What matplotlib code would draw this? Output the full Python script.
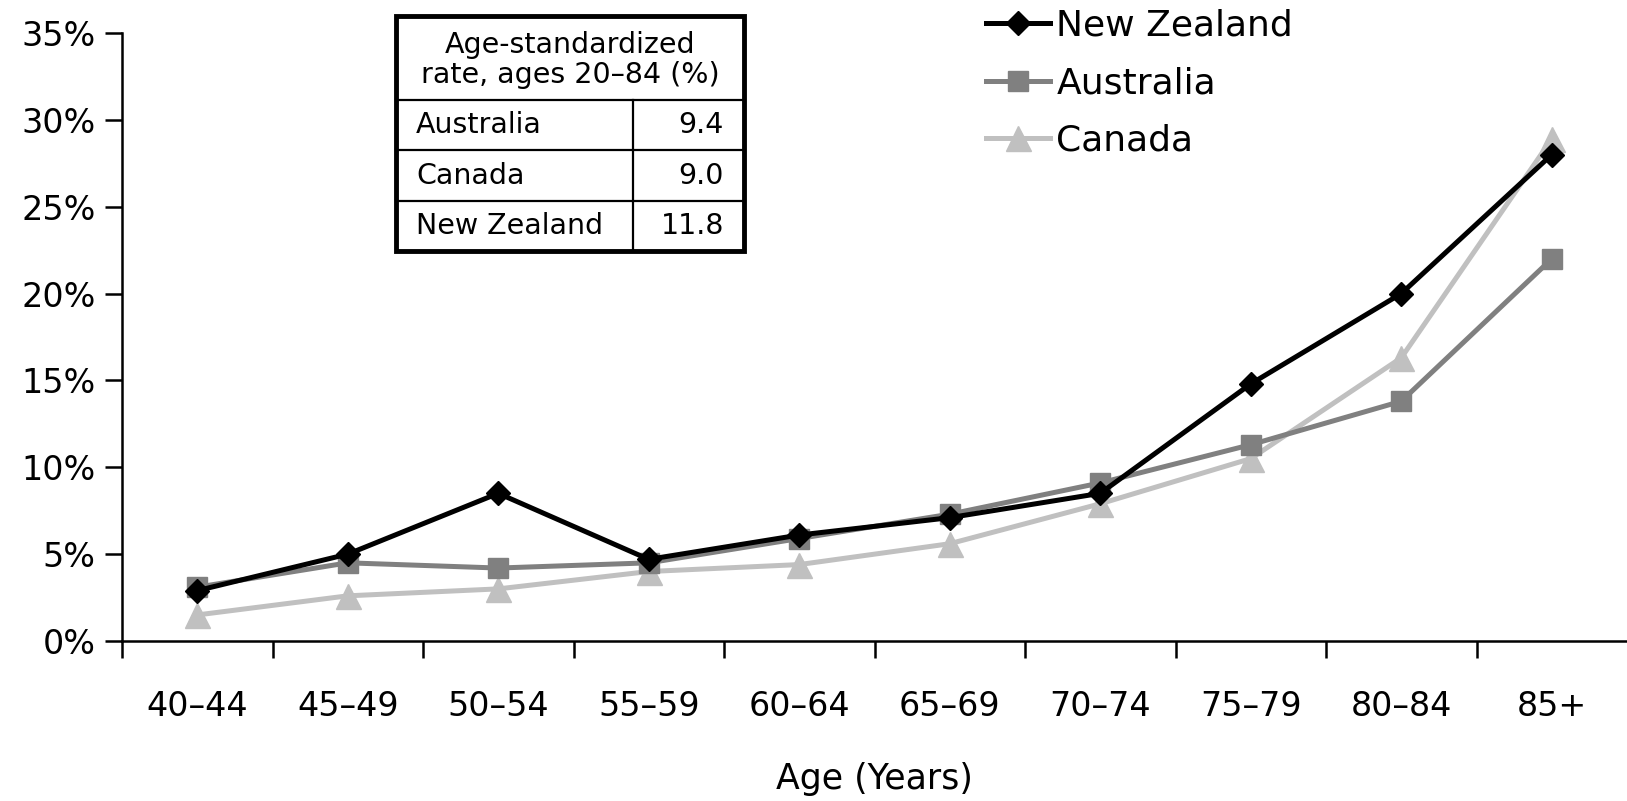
import matplotlib
matplotlib.use("Agg")
import matplotlib.pyplot as plt
from matplotlib.lines import Line2D
from matplotlib.patches import Rectangle

categories = ["40–44", "45–49", "50–54", "55–59", "60–64", "65–69", "70–74", "75–79", "80–84", "85+"]
new_zealand = [2.9, 5.0, 8.5, 4.7, 6.1, 7.1, 8.5, 14.8, 20.0, 28.0]
australia = [3.1, 4.5, 4.2, 4.5, 5.9, 7.3, 9.1, 11.3, 13.8, 22.0]
canada = [1.5, 2.6, 3.0, 4.0, 4.4, 5.6, 7.9, 10.5, 16.3, 28.9]
yticks = [0, 5, 10, 15, 20, 25, 30, 35]
ytick_labels = ["0%", "5%", "10%", "15%", "20%", "25%", "30%", "35%"]

table_header = "Age-standardized\nrate, ages 20–84 (%)"
table_countries = ["Australia", "Canada", "New Zealand"]
table_rates = ["9.4", "9.0", "11.8"]

W, H = 1627, 801
fig = plt.figure(figsize=(W / 100, H / 100), dpi=100)
plt.rcParams['font.family'] = ['DejaVu Sans']

ax = fig.add_axes([122 / W, 1 - 641 / H, (1627 - 122) / W, (641 - 33) / H])
x = list(range(len(categories)))

ax.plot(x, new_zealand, color="black", lw=3.6, marker="D", ms=12.5, label="New Zealand", zorder=5)
ax.plot(x, australia, color="#808080", lw=3.6, marker="s", ms=14.5, label="Australia", zorder=4)
ax.plot(x, canada, color="#c0c0c0", lw=3.6, marker="^", ms=18, label="Canada", zorder=3)

ax.set_xlim(-0.5, len(categories) - 0.5)
ax.set_ylim(0, 35)
ax.set_yticks(yticks)
ax.set_yticklabels(ytick_labels, fontsize=24)
ax.set_xticks([i - 0.5 for i in range(len(categories))], minor=False)
ax.set_xticklabels([])
ax.set_xticks(x, minor=True)
ax.set_xticklabels(categories, minor=True, fontsize=24)
ax.tick_params(axis="x", which="minor", length=0, pad=35)
ax.tick_params(axis="x", which="major", length=12, width=1.8, direction="out")
ax.tick_params(axis="y", length=12, width=1.8, direction="out", pad=7)
for s in ["top", "right"]:
    ax.spines[s].set_visible(False)
for s in ["left", "bottom"]:
    ax.spines[s].set_linewidth(1.8)
ax.spines["bottom"].set_bounds(-0.5, len(categories) - 0.5)
ax.set_xlabel("Age (Years)", fontsize=25, labelpad=28)
ax.set_facecolor("none")

leg = ax.legend(loc="upper left", bbox_to_anchor=(986 / W, 1 - 9 / H), bbox_transform=fig.transFigure,
                frameon=False, fontsize=26, handlelength=1.78, handletextpad=0.17, labelspacing=0.65,
                borderaxespad=0, borderpad=0)

# Table (pixel layout converted to figure fraction)
def fx(px):
    return px / W

def fy(py):
    return 1 - py / H

left, right, top, bottom = 396, 744, 16, 251
header_bottom = 100
row_edges = [100, 150, 201, 251]
col_div = 633

fig.patches.append(Rectangle((fx(left), fy(bottom)), fx(right) - fx(left), fy(top) - fy(bottom),
                             transform=fig.transFigure, fill=True, facecolor="white",
                             edgecolor="black", lw=3.5, zorder=10))
for yy in row_edges[:-1]:
    fig.lines.append(Line2D([fx(left), fx(right)], [fy(yy), fy(yy)], transform=fig.transFigure,
                            color="black", lw=1.6, zorder=11))
fig.lines.append(Line2D([fx(col_div), fx(col_div)], [fy(header_bottom), fy(bottom)],
                        transform=fig.transFigure, color="black", lw=1.6, zorder=11))
fig.text(fx((left + right) / 2), fy((top + header_bottom) / 2 + 2), table_header, ha="center", va="center",
         fontsize=20.5, linespacing=1.1, zorder=12)
for i, (c, r) in enumerate(zip(table_countries, table_rates)):
    yc = (row_edges[i] + row_edges[i + 1]) / 2
    fig.text(fx(left + 20), fy(yc), c, ha="left", va="center", fontsize=20.5, zorder=12)
    fig.text(fx(right - 20), fy(yc), r, ha="right", va="center", fontsize=20.5, zorder=12)

fig.savefig("out.png", dpi=100)
